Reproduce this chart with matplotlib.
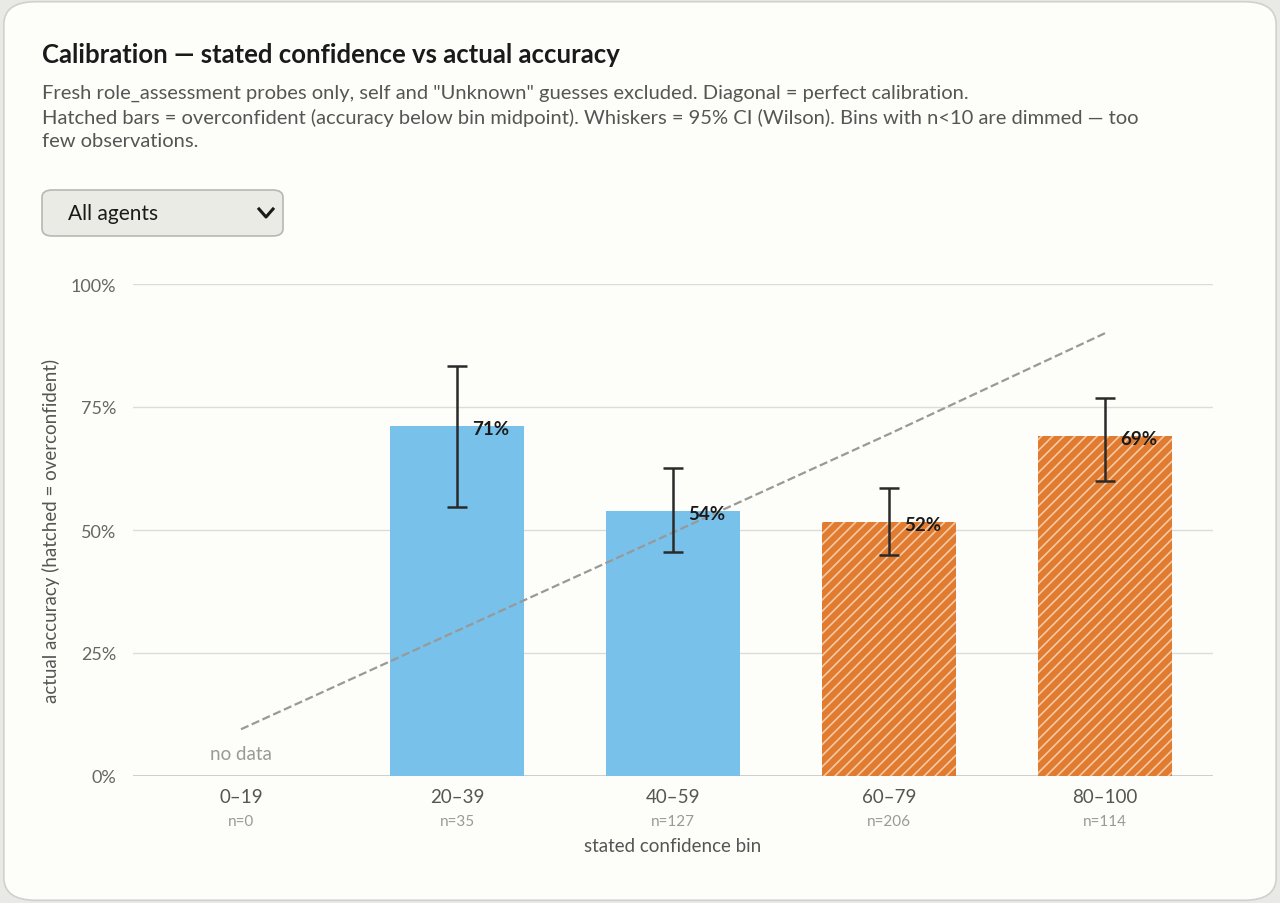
import matplotlib
matplotlib.use("Agg")
import matplotlib.pyplot as plt
from matplotlib.patches import FancyBboxPatch

bins = ["0–19", "20–39", "40–59", "60–79", "80–100"]
counts = [0, 35, 127, 206, 114]
accuracy = [None, 0.711, 0.539, 0.516, 0.691]
ci_low = [None, 0.547, 0.455, 0.449, 0.600]
ci_high = [None, 0.833, 0.626, 0.585, 0.768]
midpoints = [0.095, 0.295, 0.495, 0.695, 0.90]
overconfident = [False, False, False, True, True]

plt.rcParams['font.family'] = ['Lato', 'DejaVu Sans']
plt.rcParams['hatch.linewidth'] = 1.2
fig = plt.figure(figsize=(12.8, 9.04), dpi=100)
fig.patch.set_facecolor('#e9e9e6')
card = FancyBboxPatch((0.003, 0.003), 0.994, 0.994, boxstyle="round,pad=0,rounding_size=0.025",
                      transform=fig.transFigure, facecolor='#fdfdf9', edgecolor='#d0d0cc', lw=1.2, zorder=-5)
fig.patches.append(card)

fig.text(42/1280, 1-55/904, "Calibration — stated confidence vs actual accuracy", fontsize=18.5,
         fontweight='bold', color='#1a1a1a', va='center')
sub = ('Fresh role_assessment probes only, self and "Unknown" guesses excluded. Diagonal = perfect calibration.\n'
       'Hatched bars = overconfident (accuracy below bin midpoint). Whiskers = 95% CI (Wilson). Bins with n<10 are dimmed — too\n'
       'few observations.')
fig.text(42/1280, 1-85/904, sub, fontsize=14.5, color='#555555', va='top', linespacing=1.45)

dd = FancyBboxPatch((42/1280, 1-237/904), 241/1280, 46/904, boxstyle="round,pad=0,rounding_size=0.008",
                    transform=fig.transFigure, facecolor='#ebebe6', edgecolor='#b8b8b3', lw=1.2, zorder=-4)
fig.patches.append(dd)
fig.text(68/1280, 1-214/904, "All agents", fontsize=15, color='#1a1a1a', va='center')
fig.lines.append(plt.Line2D([259/1280, 266/1280, 273/1280], [1-210/904, 1-218/904, 1-210/904],
                            transform=fig.transFigure, color='#1a1a1a', lw=2.2))

ax = fig.add_axes([133/1280, 1-777/904, 1080/1280, 492/904])
ax.set_zorder(2)
ax.set_facecolor('none')
ax.set_xlim(-0.5, 4.5)
ax.set_ylim(0, 1.0)
for s in ax.spines.values():
    s.set_visible(False)
ax.set_yticks([0, 0.25, 0.5, 0.75, 1.0])
ax.set_yticklabels(["0%", "25%", "50%", "75%", "100%"])
ax.grid(axis='y', color='#dcdcd8', lw=1)
ax.set_axisbelow(True)
ax.tick_params(axis='y', length=0, labelsize=13, labelcolor='#666666', pad=12)
ax.tick_params(axis='x', length=0)
ax.axhline(0, color='#c8c8c4', lw=1.2)
ax.set_xticks(range(len(bins)))
ax.set_xticklabels([])

for i in range(len(bins)):
    ax.text(i, -0.025, bins[i], ha='center', va='top', fontsize=13.5, color='#555555')
    ax.text(i, -0.078, f"n={counts[i]}", ha='center', va='top', fontsize=11, color='#999999')
    if accuracy[i] is None:
        ax.text(i, 0.045, "no data", ha='center', va='center', fontsize=13.5, color='#999999')
        continue
    if overconfident[i]:
        ax.bar(i, accuracy[i], width=0.62, color='#e07b30', hatch='///', edgecolor='#f6c9a5', lw=0, zorder=2)
    else:
        ax.bar(i, accuracy[i], width=0.62, color='#77c1ea', lw=0, zorder=2)
    ax.errorbar(i, accuracy[i], yerr=[[accuracy[i]-ci_low[i]], [ci_high[i]-accuracy[i]]],
                fmt='none', ecolor='#2a2a2a', elinewidth=1.8, capsize=7, capthick=1.8, zorder=4)
    ax.text(i + 0.07, accuracy[i] - 0.005, f"{round(accuracy[i]*100)}%", ha='left', va='center',
            fontsize=13.5, fontweight='bold', color='#1a1a1a', zorder=5)

ax.plot(range(len(bins)), midpoints, ls='--', color='#999999', lw=1.6, zorder=3)
ax.set_ylabel("actual accuracy (hatched = overconfident)", fontsize=13.5, color='#555555', labelpad=8)
ax.text(2, -0.125, "stated confidence bin", ha='center', va='top', fontsize=13.5, color='#555555')

fig.savefig("out.png", dpi=100, facecolor=fig.get_facecolor())
